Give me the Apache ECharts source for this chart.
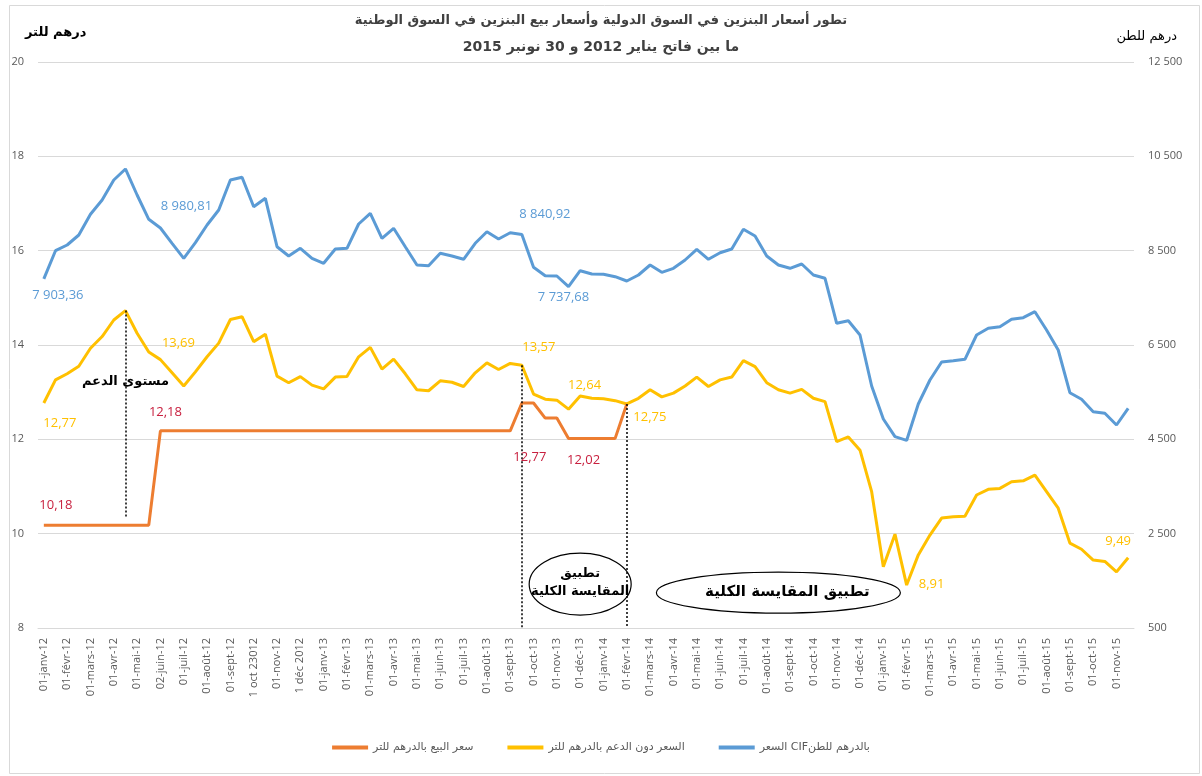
<!DOCTYPE html>
<html>
<head>
<meta charset="utf-8">
<script src="https://cdn.jsdelivr.net/npm/echarts@6/dist/echarts.min.js"></script>
<style>
html,body{margin:0;padding:0;background:#fff;}
#chart{width:1202px;height:776px;}
</style>
</head>
<body>
<div id="chart"></div>
<script>
// Tick labels (one per month; the data are semi-monthly)
var tickLabels = ['01-janv-12','01-févr-12','01-mars-12','01-avr-12','01-mai-12','02-juin-12','01-juil-12','01-août-12','01-sept-12','1 oct 23012','01-nov-12','1 déc 2012','01-janv-13','01-févr-13','01-mars-13','01-avr-13','01-mai-13','01-juin-13','01-juil-13','01-août-13','01-sept-13','01-oct-13','01-nov-13','01-déc-13','01-janv-14','01-févr-14','01-mars-14','01-avr-14','01-mai-14','01-juin-14','01-juil-14','01-août-14','01-sept-14','01-oct-14','01-nov-14','01-déc-14','01-janv-15','01-févr-15','01-mars-15','01-avr-15','01-mai-15','01-juin-15','01-juil-15','01-août-15','01-sept-15','01-oct-15','01-nov-15'];

// CIF price, dirham per tonne (right axis)
var cifPrice = [7903.36,8499,8620,8832,9271,9574,9998,10232,9680,9165,
  8980.81,8656,8338,8669,9044,9362,9998,10056,9432,9610,
  8584,8387,8550,8338,8232,8535,8550,9065,9292,8762,
  8974,8584,8196,8181,8444,8387,8317,8656,8902,8747,
  8881,8840.92,8147,7969,7963,7737.68,8075,8005,7999,7948,
  7857,7984,8196,8041,8126,8302,8529,8317,8457,8535,
  8953,8811,8387,8196,8126,8217,7984,7914,6960,7015,
  6712,5631,4931,4556,4477,5249,5758,6140,6167,6197,
  6712,6854,6888,7045,7079,7206,6818,6394,5489,5349,
  5086,5052,4804,5158];

// Price without subsidy, dirham per litre (left axis)
var noSubsidyPrice = [12.77,13.26,13.39,13.55,13.93,14.18,14.53,14.73,14.25,13.85,
  13.69,13.41,13.13,13.43,13.75,14.04,14.54,14.60,14.07,14.23,
  13.34,13.20,13.33,13.15,13.07,13.32,13.33,13.75,13.95,13.49,
  13.70,13.39,13.05,13.03,13.24,13.21,13.12,13.41,13.62,13.48,
  13.61,13.57,12.96,12.85,12.83,12.64,12.92,12.87,12.86,12.82,
  12.75,12.87,13.05,12.90,12.98,13.13,13.32,13.12,13.26,13.32,
  13.67,13.54,13.20,13.05,12.98,13.06,12.87,12.80,11.95,12.05,
  11.77,10.89,9.30,9.99,8.91,9.55,9.97,10.33,10.36,10.37,
  10.82,10.94,10.96,11.10,11.12,11.24,10.89,10.54,9.80,9.67,
  9.44,9.41,9.19,9.49];

// Sale price, dirham per litre (left axis) — ends at full indexation
var salePrice = [10.18,10.18,10.18,10.18,10.18,10.18,10.18,10.18,10.18,10.18,
  12.18,12.18,12.18,12.18,12.18,12.18,12.18,12.18,12.18,12.18,
  12.18,12.18,12.18,12.18,12.18,12.18,12.18,12.18,12.18,12.18,
  12.18,12.18,12.18,12.18,12.18,12.18,12.18,12.18,12.18,12.18,
  12.18,12.77,12.77,12.45,12.45,12.02,12.02,12.02,12.02,12.02,
  12.75];

var seriesNames = ['سعر البيع بالدرهم للتر', 'السعر دون الدعم بالدرهم للتر', 'السعر CIFبالدرهم للطن'];

// semi-monthly categories: a tick label every other point
var categories = [];
tickLabels.forEach(function (t) { categories.push(t); categories.push(''); });

var BLUE = '#5b9bd5', YELLOW = '#ffc000', ORANGE = '#ed7d31', RED = '#c8203f';
var AR = "'DejaVu Sans', sans-serif";
var NUM = "'Open Sans', sans-serif";

function fmt(v) {
  var s = v.toFixed(2).split('.');
  var i = s[0].replace(/\B(?=(\d{3})+(?!\d))/g, ' ');
  return i + ',' + s[1];
}
function fmtAxis(v) {
  return String(v).replace(/\B(?=(\d{3})+(?!\d))/g, ' ');
}
function lbl(arr, idx, color, dx, dy) {
  return {
    coord: [idx, arr[idx]],
    symbolSize: 1,
    itemStyle: { color: 'rgba(0,0,0,0)' },
    label: { show: true, position: 'inside', offset: [dx, dy], color: color,
      fontFamily: NUM, fontSize: 13, formatter: fmt(arr[idx]) }
  };
}

var chart = echarts.init(document.getElementById('chart'));
var option = {
  animation: false,
  backgroundColor: '#fff',
  title: [
    { text: 'تطور أسعار البنزين في السوق الدولية وأسعار بيع البنزين في السوق الوطنية',
      left: 'center', top: 9,
      textStyle: { fontFamily: AR, fontSize: 13, fontWeight: 'bold', color: '#404040' } },
    { text: 'ما بين فاتح يناير 2012 و 30 نونبر 2015',
      left: 'center', top: 35,
      textStyle: { fontFamily: AR, fontSize: 14, fontWeight: 'bold', color: '#404040' } },
    { text: 'درهم للتر', left: 20, top: 21,
      textStyle: { fontFamily: AR, fontSize: 13, fontWeight: 'bold', color: '#000' } },
    { text: 'درهم للطن', right: 20, top: 25,
      textStyle: { fontFamily: AR, fontSize: 13, fontWeight: 'normal', color: '#000' } }
  ],
  legend: {
    bottom: 18, left: 'center',
    data: seriesNames,
    icon: 'rect', itemWidth: 36, itemHeight: 4, itemGap: 34,
    textStyle: { fontFamily: AR, fontSize: 11, color: '#595959' }
  },
  grid: { left: 38, right: 68, top: 62, bottom: 148, outerBoundsMode: 'none', containLabel: false },
  xAxis: {
    type: 'category', data: categories, boundaryGap: true,
    axisLine: { lineStyle: { color: '#d9d9d9', width: 1 } },
    axisTick: { show: false },
    axisLabel: { interval: 1, rotate: 90, color: '#595959', fontFamily: NUM, fontSize: 11, margin: 10 }
  },
  yAxis: [
    { type: 'value', min: 8, max: 20, interval: 2, position: 'left',
      axisLine: { show: false }, axisTick: { show: false },
      axisLabel: { color: '#595959', fontFamily: NUM, fontSize: 11, margin: 14 },
      splitLine: { lineStyle: { color: '#d9d9d9', width: 1 } } },
    { type: 'value', min: 500, max: 12500, interval: 2000, position: 'right',
      axisLine: { show: false }, axisTick: { show: false },
      axisLabel: { color: '#595959', fontFamily: NUM, fontSize: 11, margin: 14, formatter: fmtAxis },
      splitLine: { show: false } }
  ],
  series: [
    { name: seriesNames[0], type: 'line', yAxisIndex: 0, data: salePrice,
      showSymbol: false, symbol: 'none', lineStyle: { color: ORANGE, width: 3 }, itemStyle: { color: ORANGE },
      z: 3,
      markPoint: { silent: true, animation: false, data: [
        lbl(salePrice, 0, RED, 12, -19),
        lbl(salePrice, 10, RED, 5, -18),
        lbl(salePrice, 41, RED, 8, 55),
        lbl(salePrice, 45, RED, 15, 22)
      ] } },
    { name: seriesNames[1], type: 'line', yAxisIndex: 0, data: noSubsidyPrice,
      showSymbol: false, symbol: 'none', lineStyle: { color: YELLOW, width: 3 }, itemStyle: { color: YELLOW },
      z: 2,
      markLine: { silent: true, symbol: 'none', animation: false,
        lineStyle: { type: [2, 2], color: '#000', width: 1.5 },
        label: { show: false },
        data: [
          [{ coord: [7, noSubsidyPrice[7]] }, { coord: [7, 10.35] }],
          [{ coord: [41, noSubsidyPrice[41]] }, { coord: [41, 8] }],
          [{ coord: [50, noSubsidyPrice[50]] }, { coord: [50, 8] }]
        ] },
      markPoint: { silent: true, animation: false, data: [
        lbl(noSubsidyPrice, 0, YELLOW, 16, 21),
        lbl(noSubsidyPrice, 10, YELLOW, 18, -16),
        lbl(noSubsidyPrice, 41, YELLOW, 17, -17),
        lbl(noSubsidyPrice, 45, YELLOW, 16, -23),
        lbl(noSubsidyPrice, 50, YELLOW, 23, 14),
        lbl(noSubsidyPrice, 74, YELLOW, 25, 0),
        lbl(noSubsidyPrice, 93, YELLOW, -10, -16),
        { coord: [7, 13.22], symbolSize: 1, itemStyle: { color: 'rgba(0,0,0,0)' },
          label: { show: true, position: 'inside', color: '#000', fontFamily: AR, fontSize: 13,
            fontWeight: 'bold', formatter: 'مستوى الدعم' } }
      ] } },
    { name: seriesNames[2], type: 'line', yAxisIndex: 1, data: cifPrice,
      showSymbol: false, symbol: 'none', lineStyle: { color: BLUE, width: 3 }, itemStyle: { color: BLUE },
      z: 1,
      markPoint: { silent: true, animation: false, data: [
        lbl(cifPrice, 0, BLUE, 14, 17),
        lbl(cifPrice, 10, BLUE, 26, -21),
        lbl(cifPrice, 41, BLUE, 23, -20),
        lbl(cifPrice, 45, BLUE, -5, 11)
      ] } }
  ]
};
chart.setOption(option);

// Ellipse annotations placed in data space
function px(idx, v) { return chart.convertToPixel({ xAxisIndex: 0, yAxisIndex: 0 }, [idx, v]); }
var e1 = px(45.7, 8.93), e2 = px(63.1, 8.75);
chart.setOption({
  graphic: [
    { type: 'rect', left: 7, top: 3, shape: { x: 0, y: 0, width: 1190, height: 768 },
      style: { fill: 'none', stroke: '#d9d9d9', lineWidth: 1 }, silent: true, z: -10 },
    { type: 'ellipse', shape: { cx: e1[0], cy: e1[1], rx: 51, ry: 31 },
      style: { fill: 'rgba(255,255,255,0)', stroke: '#000', lineWidth: 1.2 }, z: 50 },
    { type: 'text', x: e1[0], y: e1[1] - 11,
      style: { text: 'تطبيق', align: 'center', verticalAlign: 'middle', fill: '#000',
        font: "bold 13px 'DejaVu Sans', sans-serif" }, z: 51 },
    { type: 'text', x: e1[0], y: e1[1] + 7,
      style: { text: 'المقايسة الكلية', align: 'center', verticalAlign: 'middle', fill: '#000',
        font: "bold 13px 'DejaVu Sans', sans-serif" }, z: 51 },
    { type: 'ellipse', shape: { cx: e2[0], cy: e2[1], rx: 122, ry: 20.5 },
      style: { fill: 'rgba(255,255,255,0)', stroke: '#000', lineWidth: 1.2 }, z: 50 },
    { type: 'text', x: e2[0] + 9, y: e2[1] - 1,
      style: { text: 'تطبيق المقايسة الكلية', align: 'center', verticalAlign: 'middle', fill: '#000',
        font: "bold 15px 'DejaVu Sans', sans-serif" }, z: 51 }
  ]
});
</script>
</body>
</html>
